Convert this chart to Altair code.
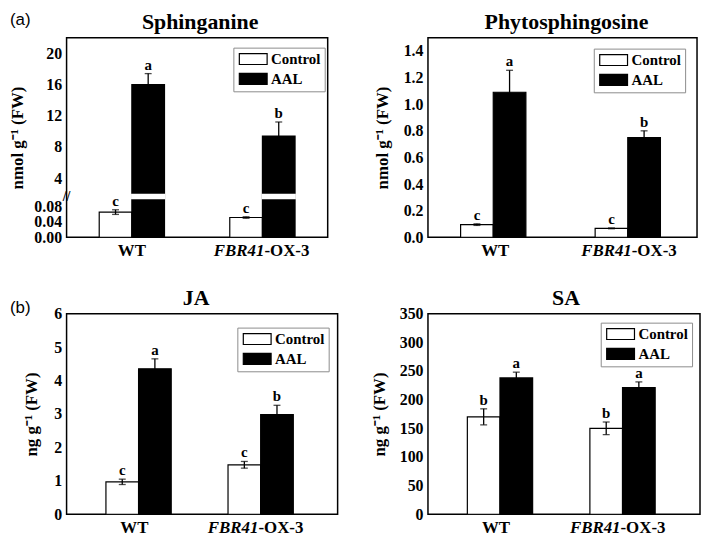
import altair as alt
import pandas as pd

genotypes = ["WT", "FBR41-OX-3"]
treatments = ["Control", "AAL"]

# order: WT-Control, WT-AAL, FBR41-Control, FBR41-AAL
sph_mean = [0.065, 16.0, 0.051, 9.4]
sph_err = [0.006, 1.4, 0.002, 1.8]
sph_letters = ["c", "a", "c", "b"]

phy_mean = [0.095, 1.09, 0.067, 0.75]
phy_err = [0.006, 0.165, 0.003, 0.05]
phy_letters = ["c", "a", "c", "b"]

ja_mean = [0.97, 4.35, 1.48, 2.98]
ja_err = [0.08, 0.30, 0.10, 0.28]
ja_letters = ["c", "a", "c", "b"]

sa_mean = [170, 238, 150, 221]
sa_err = [14, 10, 11, 10]
sa_letters = ["b", "a", "b", "a"]

SERIF = "Liberation Serif"
H1 = 201
H2 = 202
LEG_W = 90


def panel(title, means, errs, letters, ytitle, yscale, yaxis, w, h,
          xpad, xalign, leg_right, leg_y, title_dx=0, tag=None, tag_y=0, broken=None):
    df = pd.DataFrame({
        "genotype": [g for g in genotypes for t in treatments],
        "treatment": [t for g in genotypes for t in treatments],
        "mean": means,
    })
    df["lo"] = [m - e for m, e in zip(means, errs)]
    df["hi"] = [m + e for m, e in zip(means, errs)]
    df["letter"] = letters

    xenc = alt.X("genotype:N", sort=genotypes,
                 scale=alt.Scale(paddingInner=0, paddingOuter=xpad, align=xalign),
                 axis=None)
    xoff = alt.XOffset("treatment:N", sort=treatments,
                       scale=alt.Scale(paddingInner=0, paddingOuter=1))

    def Y(field):
        return alt.Y(f"{field}:Q", scale=yscale, axis=yaxis, title=ytitle)

    def YD(v):
        return alt.YDatum(v, scale=yscale, axis=yaxis, title=ytitle)

    base = alt.Chart(df).encode(x=xenc, xOffset=xoff)
    bars = base.mark_bar(stroke="black", strokeWidth=1.2).encode(
        y=Y("mean"),
        fill=alt.Fill("treatment:N", sort=treatments,
                      scale=alt.Scale(domain=treatments, range=["white", "black"]),
                      legend=alt.Legend(
                          title=None, orient="none",
                          legendX=w - leg_right - LEG_W, legendY=leg_y,
                          direction="vertical", strokeColor="#8c8c8c",
                          fillColor="white", padding=4, rowPadding=3,
                          symbolType="M-1,-1H4.09V1H-1Z", symbolSize=121,
                          symbolStrokeColor="black", symbolStrokeWidth=1.2,
                          labelOffset=19, labelFont=SERIF, labelFontWeight="bold",
                          labelFontSize=15, labelColor="black")))
    layers = [bars]
    if broken is not None:
        gap = base.transform_filter(alt.datum.treatment == "AAL").mark_bar(
            color="white", stroke="white", strokeWidth=1.6).encode(
            y=YD(broken[0]), y2=alt.Y2Datum(broken[1]))
        brk = alt.Chart(pd.DataFrame({"b": ["//"]})).mark_text(
            fontSize=14, fontWeight="bold", font=SERIF).encode(
            text="b:N", x=alt.value(0), y=YD((broken[0] + broken[1]) / 2))
        layers += [gap, brk]
    err = base.mark_rule(color="black", strokeWidth=1.3).encode(
        y=Y("lo"), y2="hi:Q")
    cap_hi = base.mark_tick(color="black", thickness=1.3, size=7).encode(y=Y("hi"))
    cap_lo = base.mark_tick(color="black", thickness=1.3, size=7).encode(y=Y("lo"))
    txt = base.mark_text(dy=-4, baseline="alphabetic", font=SERIF,
                         fontWeight="bold", fontSize=15).encode(
        y=Y("hi"), text="letter:N")
    layers += [err, cap_hi, cap_lo, txt]

    lab = pd.DataFrame({"genotype": genotypes})
    ly = alt.value(h + 14)
    lab_wt = alt.Chart(lab).transform_filter(alt.datum.genotype == "WT").mark_text(
        text="WT", font=SERIF, fontWeight="bold", fontSize=17,
        baseline="middle").encode(x=xenc, y=ly)
    lab_f = alt.Chart(lab).transform_filter(alt.datum.genotype == "FBR41-OX-3").mark_text(
        text="FBR41", font=SERIF, fontWeight="bold", fontStyle="italic", fontSize=17,
        baseline="middle", align="right", dx=2).encode(x=xenc, y=ly)
    lab_o = alt.Chart(lab).transform_filter(alt.datum.genotype == "FBR41-OX-3").mark_text(
        text="-OX-3", font=SERIF, fontWeight="bold", fontSize=17,
        baseline="middle", align="left", dx=2).encode(x=xenc, y=ly)
    layers += [lab_wt, lab_f, lab_o]

    ttl = alt.Chart(pd.DataFrame({"t": [title]})).mark_text(
        font=SERIF, fontSize=22, fontWeight="bold", align="center",
        baseline="alphabetic", color="black").encode(
        text="t:N", x=alt.value(w / 2 + title_dx), y=alt.value(-9))
    layers.append(ttl)

    if tag:
        layers.append(alt.Chart(pd.DataFrame({"t": [tag]})).mark_text(
            align="left", baseline="middle", font="Liberation Sans", fontSize=17,
            color="black").encode(text="t:N", x=alt.value(-57), y=alt.value(tag_y)))

    return alt.layer(*layers).properties(width=w, height=h)


def yaxis(values, fmt=None, expr=None, extent=30, tpad=9):
    kw = dict(values=values, minExtent=extent, maxExtent=extent, titlePadding=tpad,
              labelOverlap=False)
    if expr:
        kw["labelExpr"] = expr
    if fmt:
        kw["format"] = fmt
    return alt.Axis(**kw)


p1 = panel("Sphinganine", sph_mean, sph_err, sph_letters, "nmol g⁻¹ (FW)",
           alt.Scale(domain=[0, 0.1, 1.9, 22], range=[H1, H1 - 39, H1 - 43, 0],
                     zero=False, nice=False),
           yaxis([0, 0.04, 0.08, 4, 8, 12, 16, 20],
                 expr="datum.value < 1 ? format(datum.value, '.2f') : format(datum.value, 'd')",
                 extent=31, tpad=9),
           263, H1, 0, 0.5, 5, 10, title_dx=3, tag="(a)", tag_y=-18,
           broken=(0.1, 1.9))

p2 = panel("Phytosphingosine", phy_mean, phy_err, phy_letters, "nmol g⁻¹ (FW)",
           alt.Scale(domain=[0, 1.5], zero=True, nice=False),
           yaxis([0, 0.2, 0.4, 0.6, 0.8, 1.0, 1.2, 1.4], fmt=".1f", extent=28, tpad=9),
           271, H1, 0, 0.5, 14, 11, title_dx=4)

p3 = panel("JA", ja_mean, ja_err, ja_letters, "ng g⁻¹ (FW)",
           alt.Scale(domain=[0, 6], nice=False),
           yaxis([0, 1, 2, 3, 4, 5, 6], fmt="d", extent=17, tpad=9),
           273, H2, 0.11, 0.25, 11, 14, title_dx=-6, tag="(b)", tag_y=-6)

p4 = panel("SA", sa_mean, sa_err, sa_letters, "ng g⁻¹ (FW)",
           alt.Scale(domain=[0, 350], nice=False),
           yaxis([0, 50, 100, 150, 200, 250, 300, 350], fmt="d", extent=31, tpad=9),
           274, H2, 0.11, 0.25, 10, 9, title_dx=2)

top = alt.hconcat(p1, p2, spacing=44).resolve_scale(fill="independent").resolve_legend(fill="independent")
bottom = alt.hconcat(p3, p4, spacing=31).resolve_scale(fill="independent").resolve_legend(fill="independent")

chart = alt.vconcat(top, bottom, spacing=26).resolve_scale(
    fill="independent").resolve_legend(fill="independent").properties(
    padding={"left": 0, "top": 0, "right": 0, "bottom": 0}
).configure(
    font=SERIF
).configure_view(
    stroke="black", strokeWidth=1.5
).configure_axis(
    labelFont=SERIF, labelFontWeight="bold", labelFontSize=16, labelColor="black",
    titleFont=SERIF, titleFontWeight="bold", titleFontSize=17, titleColor="black",
    ticks=False, domain=False, grid=False, labelPadding=5
).configure_legend(
    labelFont=SERIF, labelFontWeight="bold", labelFontSize=15, labelColor="black",
    strokeColor="#8c8c8c", fillColor="white", padding=4, rowPadding=3,
    symbolStrokeColor="black", symbolStrokeWidth=1.2, labelOffset=19
)

chart.save("out.html", embed_options={"renderer": "svg", "actions": False})
